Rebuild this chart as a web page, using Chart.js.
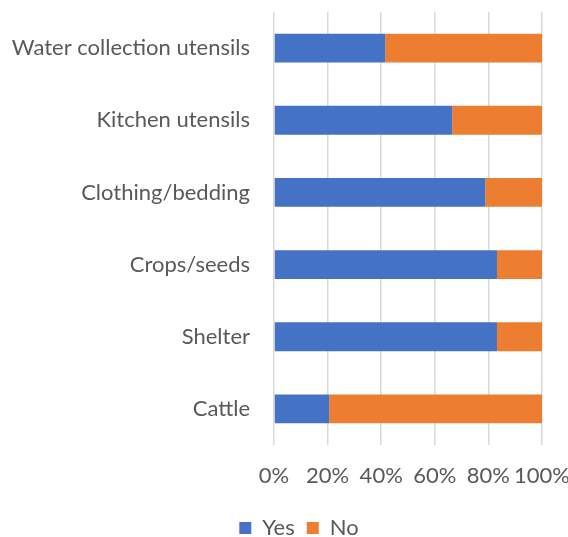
<!DOCTYPE html>
<html>
<head>
<meta charset="utf-8">
<script src="https://cdn.jsdelivr.net/npm/chart.js@4/dist/chart.umd.min.js"></script>
<style>
html,body{margin:0;padding:0;background:#fff;}
#wrap{width:568px;height:537px;position:relative;}
</style>
</head>
<body>
<div id="wrap"><canvas id="c"></canvas></div>
<script>
const categories = ["Water collection utensils","Kitchen utensils","Clothing/bedding","Crops/seeds","Shelter","Cattle"];
const yesValues = [41.5, 66.5, 78.8, 83.2, 83.2, 20.6];
const noValues = [58.5, 33.5, 21.2, 16.8, 16.8, 79.4];
const seriesNames = ["Yes","No"];
const tickValues = [0,20,40,60,80,100];

const FONT = "Lato";
const FS = 22;

const legendShift = {
  id: 'legendShift',
  afterLayout(chart) {
    const lg = chart.legend;
    if (lg) { lg.left += 28; lg.right += 28; }
  }
};

new Chart(document.getElementById('c'), {
  type: 'bar',
  data: {
    labels: categories,
    datasets: [
      {label: seriesNames[0], data: yesValues, backgroundColor: '#4472C4', barPercentage: 0.4, categoryPercentage: 1.0},
      {label: seriesNames[1], data: noValues, backgroundColor: '#ED7D31', barPercentage: 0.4, categoryPercentage: 1.0}
    ]
  },
  plugins: [legendShift],
  options: {
    indexAxis: 'y',
    responsive: true,
    maintainAspectRatio: false,
    animation: false,
    layout: {padding: {top: 12, right: 26, left: 0, bottom: -12}},
    plugins: {
      tooltip: {enabled: false},
      legend: {
        position: 'bottom',
        labels: {
          font: {family: FONT, size: FS},
          color: '#595959',
          boxWidth: 12,
          boxHeight: 12,
          padding: 12
        }
      }
    },
    scales: {
      x: {
        stacked: true,
        min: 0, max: 100,
        afterBuildTicks: (s) => { s.ticks = tickValues.map(v => ({value: v})); },
        afterFit: (s) => { s.height = 60; s.paddingLeft = 0; s.paddingRight = 0; },
        ticks: {
          callback: (v) => v + '%',
          font: {family: FONT, size: FS},
          color: '#595959',
          padding: 18,
          maxRotation: 0,
          autoSkip: false
        },
        grid: {color: '#D9D9D9', lineWidth: 1.5, drawTicks: false},
        border: {display: false}
      },
      y: {
        stacked: true,
        afterFit: (s) => { s.width = 274; s.paddingTop = 0; s.paddingBottom = 0; },
        ticks: {
          font: {family: FONT, size: FS},
          color: '#595959',
          padding: 24
        },
        grid: {display: false, drawTicks: false},
        border: {display: false}
      }
    }
  }
});
</script>
</body>
</html>
